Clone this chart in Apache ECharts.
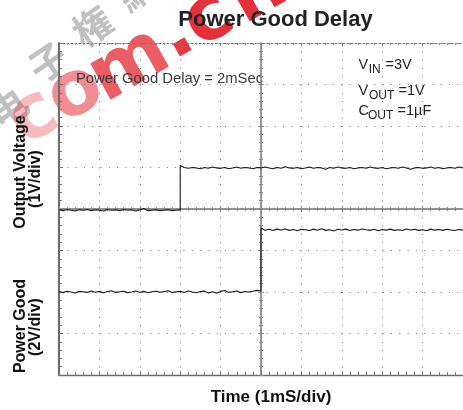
<!DOCTYPE html>
<html>
<head>
<meta charset="utf-8">
<script src="https://cdn.jsdelivr.net/npm/echarts@6/dist/echarts.min.js"></script>
<style>
  html, body { margin: 0; padding: 0; background: #fff; }
  #chart { width: 463px; height: 410px; }
</style>
</head>
<body>
<div id="chart"></div>
<script>
// ---- Data read from the scope capture ----
// Sample times (ms); 1 ms per horizontal division. Duplicated times mark the vertical edges.
var sampleTimes = [
  0,0.1,0.2,0.3,0.4,0.5,0.6,0.7,0.8,0.9,
  1,1.1,1.2,1.3,1.4,1.5,1.6,1.7,1.8,1.9,
  2,2.1,2.2,2.3,2.4,2.5,2.6,2.7,2.8,2.9,
  3,3,3.1,3.2,3.3,3.4,3.5,3.6,3.7,3.8,3.9,
  4,4.1,4.2,4.3,4.4,4.5,4.6,4.7,4.8,4.9,
  5,5,5.1,5.2,5.3,5.4,5.5,5.6,5.7,5.8,5.9,
  6,6.1,6.2,6.3,6.4,6.5,6.6,6.7,6.8,6.9,
  7,7.1,7.2,7.3,7.4,7.5,7.6,7.7,7.8,7.9,
  8,8.1,8.2,8.3,8.4,8.5,8.6,8.7,8.8,8.9,
  9,9.1,9.2,9.3,9.4,9.5,9.6,9.7,9.8,9.9,
  10
];
// Output voltage (V), 1 V/div, 0 V on the centre line
var outputVoltage = [
  -0.02,-0.04,-0.01,-0.03,-0.05,-0.02,-0.03,-0.01,-0.04,-0.02,
  -0.03,-0.05,-0.01,-0.03,-0.02,-0.04,-0.01,-0.03,-0.02,-0.05,
  -0.02,0.01,-0.04,-0.03,-0.02,-0.04,-0.03,-0.02,-0.04,-0.03,
  -0.02,
  1.05,1.0,0.98,1.0,0.99,0.97,1.0,0.98,1.01,0.99,
  0.98,1.0,0.97,0.99,1.01,0.98,1.0,0.99,0.97,1.0,
  0.99,0.99,1.01,0.99,0.97,1.0,0.98,1.02,0.99,0.98,
  1.0,0.97,0.99,1.01,0.98,1.0,0.99,0.96,1.0,0.98,
  1.01,0.99,0.98,1.0,0.97,0.99,1.0,0.98,1.01,0.99,
  0.98,1.0,0.97,0.99,1.0,0.98,1.01,0.99,0.96,0.99,
  1.0,0.98,0.99,1.01,0.98,1.0,0.97,0.99,1.0,0.98,
  1.01,0.99
];
// Power Good (V), 2 V/div, 0 V two divisions below centre
var powerGood = [
  0.02,-0.03,0.04,0.0,-0.05,0.03,0.01,-0.02,0.05,-0.01,
  0.03,-0.04,0.02,0.06,-0.02,0.01,0.04,-0.03,0.0,0.05,
  -0.02,0.03,-0.04,0.01,0.04,-0.01,0.02,0.06,-0.03,0.01,
  0.03,0.03,-0.02,0.05,0.0,-0.04,0.02,0.04,-0.05,0.01,
  -0.06,0.03,0.07,-0.02,0.01,0.05,-0.03,0.02,0.0,0.04,
  0.08,0.05,
  3.08,2.98,3.02,2.96,3.03,2.99,3.04,2.97,3.01,2.95,
  3.02,3.0,2.96,3.03,2.98,3.05,2.97,3.0,2.94,3.02,
  2.99,3.03,2.96,3.01,2.98,3.04,3.0,2.97,3.02,2.95,
  3.01,2.98,3.03,2.97,3.0,2.96,3.04,2.99,3.02,2.97,
  3.0,2.95,3.03,2.98,3.01,2.97,3.02,2.99,2.96,3.01,
  2.98
];
var titleText = 'Power Good Delay';
var noteText = 'Power Good Delay = 2mSec';
var conditions = [
  { main: 'V', sub: 'IN', rest: ' =3V' },
  { main: 'V', sub: 'OUT', rest: ' =1V' },
  { main: 'C', sub: 'OUT', rest: ' =1\u00b5F' }
];
var xAxisTitle = 'Time (1mS/div)';
var yTitles = [['Output Voltage', '(1V/div)'], ['Power Good', '(2V/div)']];

// ---- Chart ----
var FONT = "'Liberation Sans', Arial, Helvetica, sans-serif";
var chart = echarts.init(document.getElementById('chart'), null, { renderer: 'canvas' });

function pairs(vals) { return sampleTimes.map(function (t, i) { return [t, vals[i]]; }); }

var gridDots = { color: '#6f6f6f', width: 1, type: [1, 7.3] };
var centreLine = { color: '#8a8a8a', width: 1.5, type: [2, 1] };

function centreX(inside) {
  return {
    type: 'value', min: -5, max: 5, interval: 1, position: 'bottom',
    axisLine: { show: true, onZero: true, onZeroAxisIndex: 0, lineStyle: centreLine },
    axisTick: { show: true, inside: inside, length: 3, lineStyle: { color: '#888' } },
    minorTick: { show: true, splitNumber: 5, length: 2, lineStyle: { color: '#888' } },
    axisLabel: { show: false }, splitLine: { show: false }
  };
}
function centreY(inside) {
  return {
    type: 'value', min: -4, max: 4, interval: 1, position: 'left',
    axisLine: { show: true, onZero: true, onZeroAxisIndex: 1, lineStyle: centreLine },
    axisTick: { show: true, inside: inside, length: 3, lineStyle: { color: '#888' } },
    minorTick: { show: true, splitNumber: 5, length: 2, lineStyle: { color: '#888' } },
    axisLabel: { show: false }, splitLine: { show: false }
  };
}

var elements = [];
// watermark (behind the plot)
var wmChars = ['\u7535', '\u5b50', '\u6a29', '\u7db2'];
var wmPos = [[8, 108], [48, 62], [92, 26], [136, -10]];
wmChars.forEach(function (c, i) {
  elements.push({
    type: 'text', x: wmPos[i][0], y: wmPos[i][1], rotation: 0.6, z: -10,
    style: { text: c, font: 'bold 38px "Noto Sans CJK SC"', fill: 'rgba(140,140,140,0.55)',
      align: 'center', verticalAlign: 'middle', textAlign: 'center', textVerticalAlign: 'middle' }
  });
});
var wmLetters = ['c', 'o', 'm', '.', 'c', 'n'];
var wmAlpha = [0.3, 0.5, 0.72, 0.88, 0.92, 0.92];
var wmPos2 = [[34, 118], [76, 94], [130, 66], [176, 36], [209, 20], [258, -6]];
wmLetters.forEach(function (ch, i) {
  elements.push({
    type: 'text', z: -10, rotation: 0.517,
    x: wmPos2[i][0], y: wmPos2[i][1],
    style: { text: ch, font: 'bold 76px "DejaVu Sans"', fill: 'rgba(226,30,42,' + wmAlpha[i] + ')',
      align: 'center', verticalAlign: 'middle', textAlign: 'center', textVerticalAlign: 'middle' }
  });
});
// title
elements.push({
  type: 'text', x: 275.5, y: 20,
  style: { text: titleText, font: 'bold 22px ' + FONT, fill: '#222',
    align: 'center', verticalAlign: 'middle', textAlign: 'center', textVerticalAlign: 'middle' }
});
// note
elements.push({
  type: 'text', x: 76, y: 79,
  style: { text: noteText, font: '14.8px ' + FONT, fill: '#3a3a3a',
    align: 'left', verticalAlign: 'middle', textAlign: 'left', textVerticalAlign: 'middle' }
});
// conditions
var condBase = [70, 96, 116];
var subX = [368.7, 369, 368];
var restX = [381.5, 394.5, 393.5];
conditions.forEach(function (c, i) {
  var b = condBase[i];
  elements.push({ type: 'text', x: 358.5, y: b - 5.2,
    style: { text: c.main, font: '14.5px ' + FONT, fill: '#222', align: 'left', verticalAlign: 'middle', textAlign: 'left', textVerticalAlign: 'middle' } });
  elements.push({ type: 'text', x: subX[i], y: b + 3.5 - 4.2,
    style: { text: c.sub, font: '12px ' + FONT, fill: '#222', align: 'left', verticalAlign: 'middle', textAlign: 'left', textVerticalAlign: 'middle' } });
  elements.push({ type: 'text', x: restX[i], y: b - 5.2,
    style: { text: c.rest, font: '14.5px ' + FONT, fill: '#222', align: 'left', verticalAlign: 'middle', textAlign: 'left', textVerticalAlign: 'middle' } });
});
// axis titles
elements.push({
  type: 'text', x: 271, y: 397,
  style: { text: xAxisTitle, font: 'bold 17px ' + FONT, fill: '#111',
    align: 'center', verticalAlign: 'middle', textAlign: 'center', textVerticalAlign: 'middle' }
});
var yTitlePos = [[[20.5, 172], [36, 179]], [[20.5, 326], [36, 327]]];
yTitles.forEach(function (pair, i) {
  pair.forEach(function (txt, j) {
    elements.push({
      type: 'text', x: yTitlePos[i][j][0], y: yTitlePos[i][j][1], rotation: Math.PI / 2,
      style: { text: txt, font: 'bold 16px ' + FONT, fill: '#111',
        align: 'center', verticalAlign: 'middle', textAlign: 'center', textVerticalAlign: 'middle' }
    });
  });
});

chart.setOption({
  animation: false,
  backgroundColor: '#fff',
  grid: { left: 59, top: 43, width: 415, height: 332, containLabel: false },
  graphic: { elements: elements },
  xAxis: [
    { // time axis, bottom border
      type: 'value', min: 0, max: 10, interval: 1, position: 'bottom',
      axisLine: { show: true, onZero: false, lineStyle: { color: '#6a6a6a', width: 1.3 } },
      axisTick: { show: true, inside: true, length: 4, lineStyle: { color: '#777' } },
      minorTick: { show: true, splitNumber: 5, length: 3, lineStyle: { color: '#777' } },
      axisLabel: { show: false },
      splitLine: { show: true, lineStyle: gridDots }
    },
    centreX(true),
    centreX(false),
    { // top border
      type: 'value', min: 0, max: 10, interval: 1, position: 'top',
      axisLine: { show: true, onZero: false, lineStyle: { color: '#777', width: 1, type: [2, 2] } },
      axisTick: { show: true, inside: true, length: 3, lineStyle: { color: '#777' } },
      minorTick: { show: true, splitNumber: 5, length: 2, lineStyle: { color: '#888' } },
      axisLabel: { show: false }, splitLine: { show: false }
    }
  ],
  yAxis: [
    { // output voltage, left border
      type: 'value', min: -4, max: 4, interval: 1, position: 'left',
      axisLine: { show: true, onZero: false, lineStyle: { color: '#6a6a6a', width: 2 } },
      axisTick: { show: true, inside: true, length: 4, lineStyle: { color: '#777' } },
      minorTick: { show: true, splitNumber: 5, length: 3, lineStyle: { color: '#777' } },
      axisLabel: { show: false },
      splitLine: { show: true, lineStyle: gridDots }
    },
    { // power good scale
      type: 'value', min: -4, max: 12, interval: 2, position: 'right', show: false,
      axisLine: { onZero: false }, splitLine: { show: false }
    },
    centreY(true),
    centreY(false)
  ],
  series: [
    {
      name: 'Output Voltage', type: 'line', xAxisIndex: 0, yAxisIndex: 0,
      data: pairs(outputVoltage), showSymbol: false, symbol: 'none',
      lineStyle: { color: '#1a1a1a', width: 1.1 }, z: 5
    },
    {
      name: 'Power Good', type: 'line', xAxisIndex: 0, yAxisIndex: 1,
      data: pairs(powerGood), showSymbol: false, symbol: 'none',
      lineStyle: { color: '#1a1a1a', width: 1.1 }, z: 5
    }
  ]
});
</script>
</body>
</html>
